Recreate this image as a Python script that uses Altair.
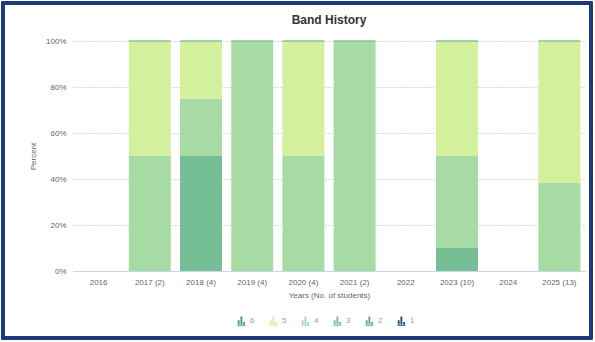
import altair as alt
import pandas as pd

# ---- data ----
year_labels = ["2016", "2017 (2)", "2018 (4)", "2019 (4)", "2020 (4)",
               "2021 (2)", "2022", "2023 (10)", "2024", "2025 (13)"]
bands = [6, 5, 4, 3, 2, 1]
band_colors = ["#3a9a8a", "#d3f09d", "#a6dba4", "#75be96", "#5aa89a", "#1f4f78"]

rec_year = ["2017 (2)", "2017 (2)",
            "2018 (4)", "2018 (4)", "2018 (4)",
            "2019 (4)",
            "2020 (4)", "2020 (4)",
            "2021 (2)",
            "2023 (10)", "2023 (10)", "2023 (10)",
            "2025 (13)", "2025 (13)"]
rec_band = [4, 5,
            3, 4, 5,
            4,
            4, 5,
            4,
            3, 4, 5,
            4, 5]
rec_count = [1, 1,
             2, 1, 1,
             4,
             2, 2,
             2,
             1, 4, 5,
             5, 8]

df = pd.DataFrame({"year": rec_year, "band": rec_band, "count": rec_count})

font = "Liberation Sans"
xscale = alt.Scale(domain=year_labels, paddingInner=0.18, paddingOuter=0.09)
yscale = alt.Scale(domain=[0, 1], nice=False)

base = alt.Chart(df).transform_joinaggregate(
    total="sum(count)", groupby=["year"]
).transform_calculate(pct="datum.count / datum.total")

bars = base.mark_bar(strokeWidth=0).encode(
    x=alt.X("year:N", scale=xscale, sort=year_labels,
            axis=alt.Axis(title="Years (No. of students)", labelAngle=0,
                          ticks=False, domain=True, domainColor="#ccd6eb",
                          labelPadding=7, titlePadding=5, grid=False)),
    y=alt.Y("sum(pct):Q", scale=yscale, stack="zero",
            axis=alt.Axis(title="Percent", format=".0%", values=[0, 0.2, 0.4, 0.6, 0.8, 1.0],
                          domain=False, ticks=False, labelPadding=7, titlePadding=8,
                          grid=True, gridDash=[1, 2], gridColor="#bbbbbb")),
    color=alt.Color("band:N", scale=alt.Scale(domain=bands, range=band_colors),
                    sort=bands,
                    legend=alt.Legend(title=None, orient="none", direction="horizontal",
                                      legendX=164, legendY=275,
                                      symbolType="M-0.9,1V-0.1H-0.45V1ZM-0.25,1V-1H0.2V1ZM0.4,1V0.35H0.85V1ZM-1,1.05H1V1.25H-1Z",
                                      symbolSize=70, symbolStrokeWidth=0,
                                      labelFontSize=8, labelColor="#999999",
                                      labelFont=font, columnPadding=14,
                                      symbolOffset=0)),
    order=alt.Order("band:Q", sort="ascending"),
)

tops = base.mark_tick(color="#86c59a", thickness=1.5, size=42).encode(
    x=alt.X("year:N", scale=xscale, sort=year_labels),
    y=alt.Y("sum(pct):Q", scale=yscale),
)

frame = alt.Chart(df).mark_rect(fill=None, stroke="#1d3b7a", strokeWidth=2.5, clip=False).encode(
    x=alt.value(-70), x2=alt.value(518), y=alt.value(-38), y2=alt.value(297)
)

chart = alt.layer(bars, tops, frame).properties(
    width=512, height=230,
    autosize=alt.AutoSizeParams(type="none"),
    padding={"left": 73, "top": 41, "right": 10, "bottom": 71},
    title=alt.TitleParams("Band History", fontSize=12, fontWeight="bold",
                          font=font, color="#333333", offset=0, dy=25, anchor="middle"),
).configure_axis(
    labelFont=font, titleFont=font, labelFontSize=8, titleFontSize=8,
    labelColor="#666666", titleColor="#666666", titleFontWeight="normal",
).configure_view(stroke=None)

chart.save("out.html", embed_options={"renderer": "svg", "actions": False})
